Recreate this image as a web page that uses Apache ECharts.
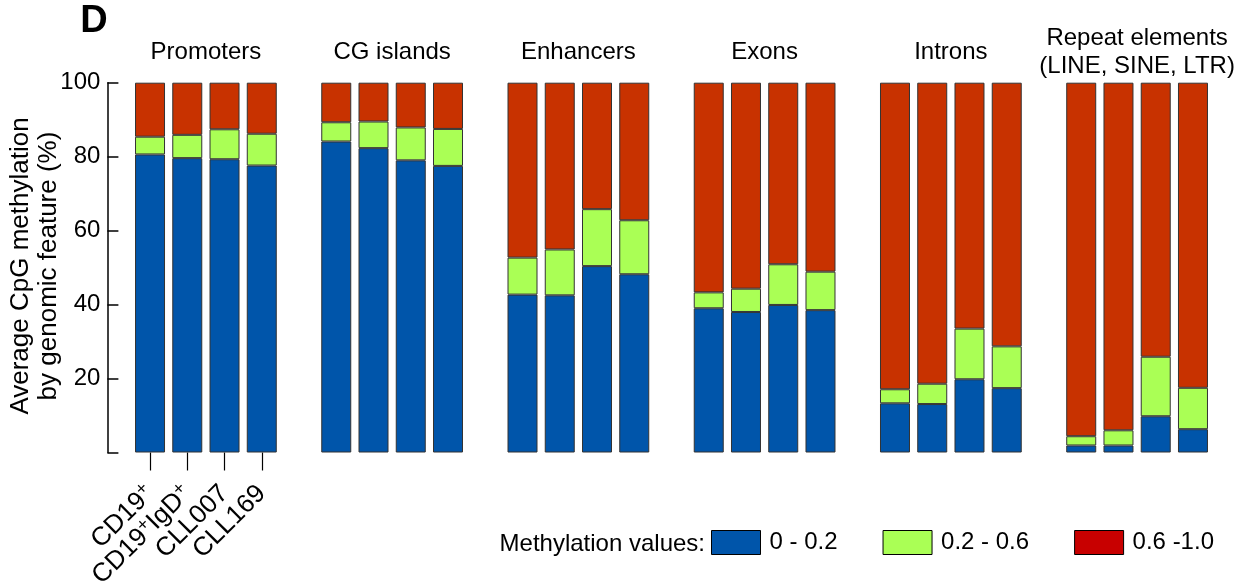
<!DOCTYPE html>
<html>
<head>
<meta charset="utf-8">
<script src="https://cdn.jsdelivr.net/npm/echarts@6/dist/echarts.min.js"></script>
<style>html,body{margin:0;padding:0;background:#fff}#c{width:1250px;height:588px}</style>
</head>
<body>
<div id="c"></div>
<script>
const groups = ['Promoters', 'CG islands', 'Enhancers', 'Exons', 'Introns', 'Repeat elements\n(LINE, SINE, LTR)'];
const samples = ['CD19+', 'CD19+IgD+', 'CLL007', 'CLL169'];
// segment heights (%) per bar, groups in order, 4 samples each
const low  = [80.6, 79.6, 79.3, 77.6,  84.1, 82.3, 79.0, 77.5,  42.7, 42.5, 50.4, 48.2,  39.0, 38.0, 39.9, 38.5,  13.3, 13.1, 19.8, 17.4,  1.9, 1.9, 9.8, 6.3];
const mid  = [4.8, 6.3, 8.1, 8.6,  5.2, 7.2, 8.9, 10.0,  10.0, 12.4, 15.4, 14.6,  4.3, 6.3, 11.0, 10.4,  3.8, 5.5, 13.7, 11.3,  2.5, 4.1, 16.1, 11.2];
const high = [14.6, 14.1, 12.6, 13.8,  10.7, 10.5, 12.1, 12.5,  47.3, 45.1, 34.2, 37.2,  56.7, 55.7, 49.1, 51.1,  82.9, 81.4, 66.5, 71.3,  95.6, 94.0, 74.1, 82.5];
const legendNames = ['0 - 0.2', '0.2 - 0.6', '0.6 -1.0'];
const yMin = 0, yMax = 100, yStep = 20;

const FONT = "'Liberation Sans', Arial, sans-serif";
const colors = { low: '#0055AA', mid: '#AAFF55', high: '#C83200', highLegend: '#C80000' };

// build category axis: 4 bars per group, one empty slot between groups
const categories = [];
const dLow = [], dMid = [], dHigh = [];
groups.forEach((g, gi) => {
  samples.forEach((s, si) => {
    const k = gi * samples.length + si;
    categories.push(g + '|' + s);
    dLow.push(low[k]); dMid.push(mid[k]); dHigh.push(high[k]);
  });
  if (gi < groups.length - 1) {
    categories.push('gap' + gi);
    dLow.push('-'); dMid.push('-'); dHigh.push('-');
  }
});

const richLabel = {
  'CD19+': '{t|CD19}{s|+}',
  'CD19+IgD+': '{t|CD19}{s|+}{t|IgD}{s|+}',
  'CLL007': '{t|CLL007}',
  'CLL169': '{t|CLL169}'
};

const chart = echarts.init(document.getElementById('c'), null, { renderer: 'canvas' });
const barStyle = (c) => ({ color: c, borderColor: '#333', borderWidth: 1 });

const option = {
  animation: false,
  backgroundColor: '#fff',
  grid: { left: 131.4, right: 38.4, top: 82.7, bottom: 135.5, containLabel: false, outerBoundsMode: 'none' },
  xAxis: {
    type: 'category',
    data: categories,
    offset: 8,
    axisLine: { show: false },
    axisTick: {
      show: true, alignWithLabel: true, length: 18,
      interval: (idx) => idx < samples.length,
      lineStyle: { color: '#000', width: 1.2 }
    },
    axisLabel: {
      interval: 0, rotate: 45, margin: 29,
      formatter: (v, idx) => idx < samples.length ? richLabel[samples[idx]] : '',
      rich: {
        t: { fontSize: 26, fontFamily: FONT, color: '#000' },
        s: { fontSize: 18, fontFamily: FONT, color: '#000', padding: [0, 0, 12, 0] }
      }
    }
  },
  yAxis: {
    type: 'value', min: yMin, max: yMax, interval: yStep,
    offset: 24,
    axisLine: { show: true, lineStyle: { color: '#000', width: 1.5 } },
    axisTick: { show: true, inside: true, length: 11, lineStyle: { color: '#000', width: 1.5 } },
    axisLabel: {
      margin: 7, color: '#000', fontSize: 24, fontFamily: FONT,
      formatter: (v) => v === 0 ? '' : String(v)
    },
    splitLine: { show: false }
  },
  legend: {
    left: 706, top: 525,
    itemWidth: 49, itemHeight: 24, itemGap: 45,
    icon: 'rect',
    textStyle: { fontSize: 24, fontFamily: FONT, color: '#000', padding: [0, 0, 0, 4] },
    data: [
      { name: legendNames[0], itemStyle: { color: colors.low, borderColor: '#000', borderWidth: 1 } },
      { name: legendNames[1], itemStyle: { color: colors.mid, borderColor: '#000', borderWidth: 1 } },
      { name: legendNames[2], itemStyle: { color: colors.highLegend, borderColor: '#000', borderWidth: 1 } }
    ]
  },
  series: [
    { name: legendNames[0], type: 'bar', stack: 'm', barWidth: 30, data: dLow, itemStyle: barStyle(colors.low) },
    { name: legendNames[1], type: 'bar', stack: 'm', barWidth: 30, data: dMid, itemStyle: barStyle(colors.mid) },
    { name: legendNames[2], type: 'bar', stack: 'm', barWidth: 30, data: dHigh, itemStyle: barStyle(colors.high) }
  ]
};
chart.setOption(option);

// text elements: panel letter, y title, legend caption, group titles
const txt = (x, y, text, extra) => ({
  type: 'text', x: x, y: y,
  style: Object.assign({
    text: text, fill: '#000', fontSize: 24, fontFamily: FONT,
    align: 'center', verticalAlign: 'middle', textAlign: 'center', textVerticalAlign: 'middle', lineHeight: 28
  }, extra || {})
});

const elements = [];
elements.push(txt(94, 22, 'D', { fontSize: 38, fontWeight: 'bold' }));
elements.push(Object.assign(txt(35, 266, 'Average CpG methylation\nby genomic feature (%)', { fontSize: 26, lineHeight: 28 }), { rotation: Math.PI / 2 }));
elements.push(txt(705, 544, 'Methylation values:', { align: 'right', textAlign: 'right' }));
groups.forEach((g, gi) => {
  const a = chart.convertToPixel({ xAxisIndex: 0 }, g + '|' + samples[1]);
  const b = chart.convertToPixel({ xAxisIndex: 0 }, g + '|' + samples[2]);
  elements.push(txt((a + b) / 2, 52.5, g));
});
chart.setOption({ graphic: { elements: elements } });
</script>
</body>
</html>
